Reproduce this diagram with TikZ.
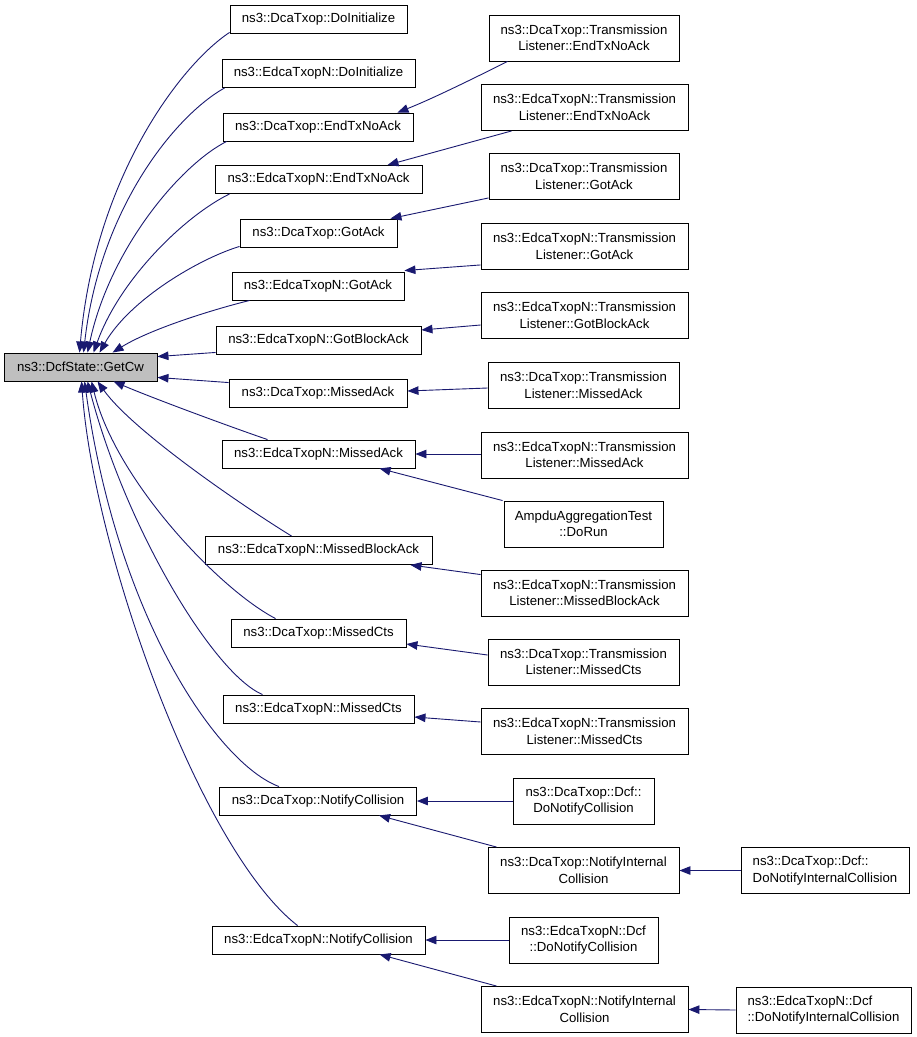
\documentclass[tikz,border=0pt]{standalone}
\usepackage{fontspec}
\setmainfont{Liberation Sans}
\usetikzlibrary{arrows.meta,calc}
\definecolor{edgeblue}{HTML}{191970}
\definecolor{mainfill}{HTML}{BFBFBF}
\begin{document}
\begin{tikzpicture}[x=1pt,y=-1pt,
  box/.style={draw=black,line width=0.9pt,fill=white,inner sep=0pt,align=center,
    font=\fontsize{13.2}{16.5}\selectfont,minimum height=28pt},
  tall/.style={minimum height=46pt},
  edge/.style={draw=edgeblue,line width=0.9pt,-{Triangle[length=11pt,width=8.5pt]}}]

\useasboundingbox (0,0) rectangle (917,1037);
\fill[white] (0,0) rectangle (917,1037);

% main node
\node[box,fill=mainfill,minimum width=153pt] (g) at (80.5,367) {ns3::DcfState::GetCw};

% column 2
\node[box,minimum width=177pt] (c1) at (318.5,19) {ns3::DcaTxop::DoInitialize};
\node[box,minimum width=193pt] (c2) at (318.5,73.5) {ns3::EdcaTxopN::DoInitialize};
\node[box,minimum width=190pt] (c3) at (318,127) {ns3::DcaTxop::EndTxNoAck};
\node[box,minimum width=207pt] (c4) at (318.5,179.5) {ns3::EdcaTxopN::EndTxNoAck};
\node[box,minimum width=157pt] (c5) at (318.5,233) {ns3::DcaTxop::GotAck};
\node[box,minimum width=172pt] (c6) at (318,286) {ns3::EdcaTxopN::GotAck};
\node[box,minimum width=205pt] (c7) at (318.5,340) {ns3::EdcaTxopN::GotBlockAck};
\node[box,minimum width=178pt] (c8) at (318,393) {ns3::DcaTxop::MissedAck};
\node[box,minimum width=193pt] (c9) at (318.5,454) {ns3::EdcaTxopN::MissedAck};
\node[box,minimum width=227pt] (c10) at (318.5,550.5) {ns3::EdcaTxopN::MissedBlockAck};
\node[box,minimum width=175pt] (c11) at (318.5,633) {ns3::DcaTxop::MissedCts};
\node[box,minimum width=191pt] (c12) at (318.5,709) {ns3::EdcaTxopN::MissedCts};
\node[box,minimum width=197pt] (c13) at (318,801) {ns3::DcaTxop::NotifyCollision};
\node[box,minimum width=213pt] (c14) at (318.5,940) {ns3::EdcaTxopN::NotifyCollision};

% column 3
\node[box,tall,minimum width=190pt] (t1) at (584,38) {ns3::DcaTxop::Transmission\\Listener::EndTxNoAck};
\node[box,tall,minimum width=207pt] (t2) at (584.5,107.5) {ns3::EdcaTxopN::Transmission\\Listener::EndTxNoAck};
\node[box,tall,minimum width=190pt] (t3) at (584,176.5) {ns3::DcaTxop::Transmission\\Listener::GotAck};
\node[box,tall,minimum width=207pt] (t4) at (584.5,246.5) {ns3::EdcaTxopN::Transmission\\Listener::GotAck};
\node[box,tall,minimum width=207pt] (t5) at (584.5,315.5) {ns3::EdcaTxopN::Transmission\\Listener::GotBlockAck};
\node[box,tall,minimum width=191pt] (t6) at (583.5,385.5) {ns3::DcaTxop::Transmission\\Listener::MissedAck};
\node[box,tall,minimum width=207pt] (t7) at (584.5,455) {ns3::EdcaTxopN::Transmission\\Listener::MissedAck};
\node[box,tall,minimum width=159pt] (t8) at (583.5,524) {AmpduAggregationTest\\::DoRun};
\node[box,tall,minimum width=207pt] (t9) at (584.5,593) {ns3::EdcaTxopN::Transmission\\Listener::MissedBlockAck};
\node[box,tall,minimum width=191pt] (t10) at (583.5,662) {ns3::DcaTxop::Transmission\\Listener::MissedCts};
\node[box,tall,minimum width=207pt] (t11) at (584.5,731.5) {ns3::EdcaTxopN::Transmission\\Listener::MissedCts};
\node[box,tall,minimum width=141pt] (t12) at (583.5,801) {ns3::DcaTxop::Dcf::\\DoNotifyCollision};
\node[box,tall,minimum width=191pt] (t13) at (583.5,870.5) {ns3::DcaTxop::NotifyInternal\\Collision};
\node[box,tall,minimum width=149pt] (t14) at (583.5,940) {ns3::EdcaTxopN::Dcf\\::DoNotifyCollision};
\node[box,tall,minimum width=207pt] (t15) at (584.5,1009.5) {ns3::EdcaTxopN::NotifyInternal\\Collision};

% column 4
\node[box,tall,align=left,minimum width=168pt] (p1) at (825,870.5) {ns3::DcaTxop::Dcf::\\DoNotifyInternalCollision};
\node[box,tall,align=left,minimum width=175pt] (p2) at (823.5,1010) {ns3::EdcaTxopN::Dcf\\::DoNotifyInternalCollision};

% edges into GetCw
\draw[edge] ($(c1.south west)+(0,-1)$) .. controls +(-50,33) and +(15,-173) .. ($(g.north west)+(76,0)$);
\draw[edge] ($(c2.south west)+(3,0)$) .. controls +(-50,28) and +(16,-143) .. ($(g.north west)+(80,0)$);
\draw[edge] ($(c3.south west)+(4,0)$) .. controls +(-47,24) and +(22,-103) .. ($(g.north west)+(84,0)$);
\draw[edge] ($(c4.south west)+(15,0)$) .. controls +(-45,22) and +(26,-73) .. ($(g.north west)+(90,0)$);
\draw[edge] ($(c5.south west)+(0,-1)$) .. controls +(-40,12) and +(30,-53) .. ($(g.north west)+(96,0)$);
\draw[edge] ($(c6.south west)+(18,0)$) .. controls +(-40,10) and +(37,-23) .. ($(g.north west)+(109,0)$);
\draw[edge] ($(c7.south west)+(0,-2)$) -- ($(g.north east)+(0,4)$);
\draw[edge] ($(c8.north west)+(0,4)$) -- ($(g.south east)+(0,-4)$);
\draw[edge] ($(c9.north west)+(46,0)$) .. controls +(-38,-13) and +(40,17) .. ($(g.south west)+(110,0)$);
\draw[edge] ($(c10.north west)+(87,0)$) .. controls +(-52,-32) and +(35,49) .. ($(g.south west)+(94,0)$);
\draw[edge] ($(c11.north west)+(45,0)$) .. controls +(-56,-29) and +(24,99) .. ($(g.south west)+(88,0)$);
\draw[edge] ($(c12.north west)+(40,0)$) .. controls +(-48,-20) and +(39,149) .. ($(g.south west)+(84,0)$);
\draw[edge] ($(c13.north west)+(60,0)$) .. controls +(-60,-22) and +(33,239) .. ($(g.south west)+(81,0)$);
\draw[edge] ($(c14.north west)+(86,0)$) .. controls +(-98,-76) and +(12,169) .. ($(g.south west)+(78,0)$);

% edges column 3 -> column 2
\draw[edge] ($(t1.south west)+(19,0)$) .. controls +(-38,19) and +(33,-13) .. ($(c3.north east)+(-16,0)$);
\draw[edge] ($(t2.south west)+(31,0)$) -- ($(c4.north east)+(-35,0)$);
\draw[edge] ($(t3.south west)+(0,-2)$) -- ($(c5.north east)+(-7,0)$);
\draw[edge] ($(t4.south west)+(0,-5)$) -- ($(c6.north east)+(0,-1)$);
\draw[edge] ($(t5.west)+(0,9.5)$) -- ($(c7.east)+(0,-10)$);
\draw[edge] ($(t6.west)+(0,2.5)$) -- ($(c8.east)+(0,-2)$);
\draw[edge] ($(t7.west)+(0,-1)$) -- (c9.east);
\draw[edge] ($(t8.north west)+(-1,0)$) -- ($(c9.south west)+(158,0)$);
\draw[edge] ($(t9.north west)+(0,5)$) -- ($(c10.south east)+(-22,0)$);
\draw[edge] ($(t10.west)+(0,-7)$) -- ($(c11.east)+(0,11)$);
\draw[edge] ($(t11.west)+(0,-9.5)$) -- ($(c12.east)+(0,8)$);
\draw[edge] (t12.west) -- (c13.east);
\draw[edge] ($(t13.north west)+(9,0)$) -- ($(c13.south west)+(160,0)$);
\draw[edge] (t14.west) -- (c14.east);
\draw[edge] ($(t15.north west)+(16,0)$) -- ($(c14.south west)+(168,0)$);

% edges column 4 -> column 3
\draw[edge] (p1.west) -- (t13.east);
\draw[edge] (p2.west) -- (t15.east);
\end{tikzpicture}
\end{document}
